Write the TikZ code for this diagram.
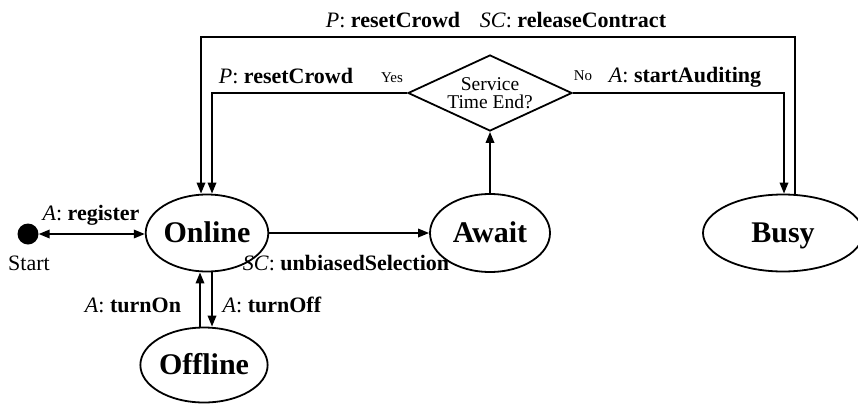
\documentclass[tikz,border=0pt]{standalone}
\usepackage{fontspec}
\setmainfont{Liberation Serif}
\usetikzlibrary{shapes.geometric,arrows.meta}

% actor prefix in italics, action name in bold
\newcommand\lblact[2]{\textit{#1}: \textbf{#2}}

\begin{document}
\begin{tikzpicture}[x=1pt,y=-1pt,
  state/.style={ellipse, draw, line width=1.8pt, inner sep=0pt,
    text height=20pt, text depth=2pt,
    font=\fontsize{30}{34}\selectfont\bfseries},
  decision/.style={diamond, draw, line width=1.8pt, inner sep=0pt},
  link/.style={line width=1.8pt},
  arr/.style={link, -{Triangle[length=11pt,width=8.5pt]}},
  biarr/.style={link, {Triangle[length=11pt,width=8.5pt]}-{Triangle[length=11pt,width=8.5pt]}},
  lbl/.style={anchor=base, inner sep=0pt, font=\fontsize{22}{26}\selectfont},
  small/.style={anchor=base, inner sep=0pt, font=\fontsize{15}{18}\selectfont},
]
\useasboundingbox (0,0) rectangle (858,407);

% states
\node[circle, fill, inner sep=0pt, minimum size=21] (start) at (28,234) {};
\node[state, minimum width=121, minimum height=77] (online)  at (207,233) {Online};
\node[state, minimum width=120, minimum height=78] (await)   at (490,233) {Await};
\node[state, minimum width=160, minimum height=77] (busy)    at (783,233) {Busy};
\node[state, minimum width=126, minimum height=75] (offline) at (204,365) {Offline};

% decision
\node[decision, minimum width=164, minimum height=76,
  label={[align=center, font=\fontsize{19.5}{18.5}\selectfont]center:Service\\Time End?}]
  (dec) at (490,93) {};

\coordinate (toprow) at (500,37);

% transitions
\draw[biarr] (start) -- (start -| online.west);
\draw[arr] (online) -- (await);
\draw[arr] (await) -- (dec);
\draw[arr] (dec.west) -| ([xshift=5]online.north);
\draw[arr] (dec.east) -| ([xshift=1]busy.north);
\draw[arr] ([xshift=12]busy.north) |- (toprow) -| ([xshift=-6]online.north);
\draw[arr] ([xshift=5]online.south) -- ([xshift=5]online.south |- offline.north);
\draw[arr] ([xshift=-7]online.south |- offline.north) -- ([xshift=-7]online.south);

% labels
\node[lbl] (lTop) at (496,27) {\lblact{P}{resetCrowd}\hspace{0.9em}\lblact{SC}{releaseContract}};
\node[lbl] (lYesAct) at (286,83) {\lblact{P}{resetCrowd}};
\node[small] (lYes) at (392,82) {Yes};
\node[small] (lNo) at (583,80) {No};
\node[lbl] (lNoAct) at (685,82) {\lblact{A}{startAuditing}};
\node[lbl] (lReg) at (91,220) {\lblact{A}{register}};
\node[lbl] (lStart) at (29,270) {Start};
\node[lbl] (lSel) at (346,270) {\lblact{SC}{unbiasedSelection}};
\node[lbl] (lOff) at (272,312) {\lblact{A}{turnOff}};
\node[lbl] (lOn) at (133,312) {\lblact{A}{turnOn}};
\end{tikzpicture}
\end{document}
